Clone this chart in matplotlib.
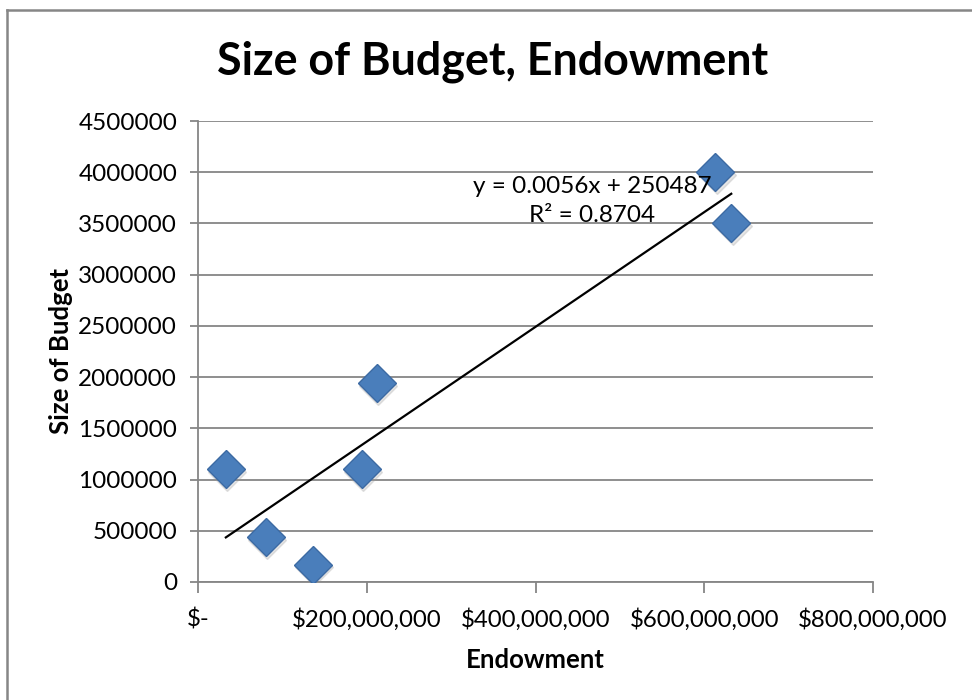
import numpy as np
import matplotlib.pyplot as plt
from matplotlib.lines import Line2D
from matplotlib.transforms import ScaledTranslation
from matplotlib.ticker import FuncFormatter

# Endowment vs. budget size per organisation
endowment = [33e6, 80e6, 136e6, 194e6, 212e6, 613e6, 632e6]
budget = [1100000, 440000, 170000, 1100000, 1940000, 4000000, 3500000]

# linear trendline as reported
slope = 0.0056
intercept = 250487
r_squared = 0.8704

plt.rcParams['font.family'] = ['Lato', 'DejaVu Sans']

fig = plt.figure(figsize=(9.72, 7.0), dpi=100)
ax = fig.add_axes([198 / 972, 1 - 582 / 700, 675 / 972, 461 / 700])

grid_col = '#868686'
ax.set_xlim(0, 800e6)
ax.set_ylim(0, 4500000)
ax.set_xticks(np.arange(0, 800e6 + 1, 200e6))
ax.set_yticks(np.arange(0, 4500001, 500000))
ax.yaxis.grid(True, color=grid_col, linewidth=1.3)
ax.set_axisbelow(True)

for side in ['top', 'right']:
    ax.spines[side].set_visible(False)
for side in ['left', 'bottom']:
    ax.spines[side].set_color(grid_col)
    ax.spines[side].set_linewidth(1.3)

ax.tick_params(axis='y', direction='out', length=6, width=1.3,
               color=grid_col, labelsize=17.5, pad=9)
ax.tick_params(axis='x', direction='out', length=8, width=1.3,
               color=grid_col, labelsize=17.3, pad=11)

ax.xaxis.set_major_formatter(FuncFormatter(
    lambda v, p: '$-' if v == 0 else f'${v:,.0f}'))
ax.yaxis.set_major_formatter(FuncFormatter(lambda v, p: f'{v:.0f}'))

# trendline across the data range
xs = np.array([min(endowment), max(endowment)])
ax.plot(xs, slope * xs + intercept, color='black', linewidth=1.6, zorder=3)

# soft shadow under the diamonds, then the markers
shadow = ax.transData + ScaledTranslation(1 / 72, -2 / 72, fig.dpi_scale_trans)
ax.plot(endowment, budget, linestyle='none', marker='D', markersize=19,
        color='#9a9a9a', alpha=0.25, zorder=3, transform=shadow)
ax.plot(endowment, budget, linestyle='none', marker='D', markersize=19,
        markerfacecolor='#4a7ebb', markeredgecolor='#3c6aa3',
        markeredgewidth=1, zorder=4)

ax.text(467e6, 3.72e6,
        f'y = {slope}x + {intercept}\nR\u00b2 = {r_squared}',
        ha='center', va='center', fontsize=17.5, linespacing=1.45, zorder=5)

ax.set_xlabel('Endowment', fontsize=18.5, fontweight='bold', labelpad=12)
ax.set_ylabel('Size of Budget', fontsize=18.5, fontweight='bold', labelpad=4)
fig.text(493 / 972, 1 - 62 / 700, 'Size of Budget, Endowment',
         ha='center', va='center', fontsize=32.3, fontweight='bold')

# chart frame
fig.add_artist(Line2D([6.5 / 972, 6.5 / 972], [0, 1 - 9.5 / 700],
                      color=grid_col, linewidth=1.8))
fig.add_artist(Line2D([6.5 / 972, 1], [1 - 9.5 / 700, 1 - 9.5 / 700],
                      color=grid_col, linewidth=1.8))

fig.savefig('out.png', dpi=100)
